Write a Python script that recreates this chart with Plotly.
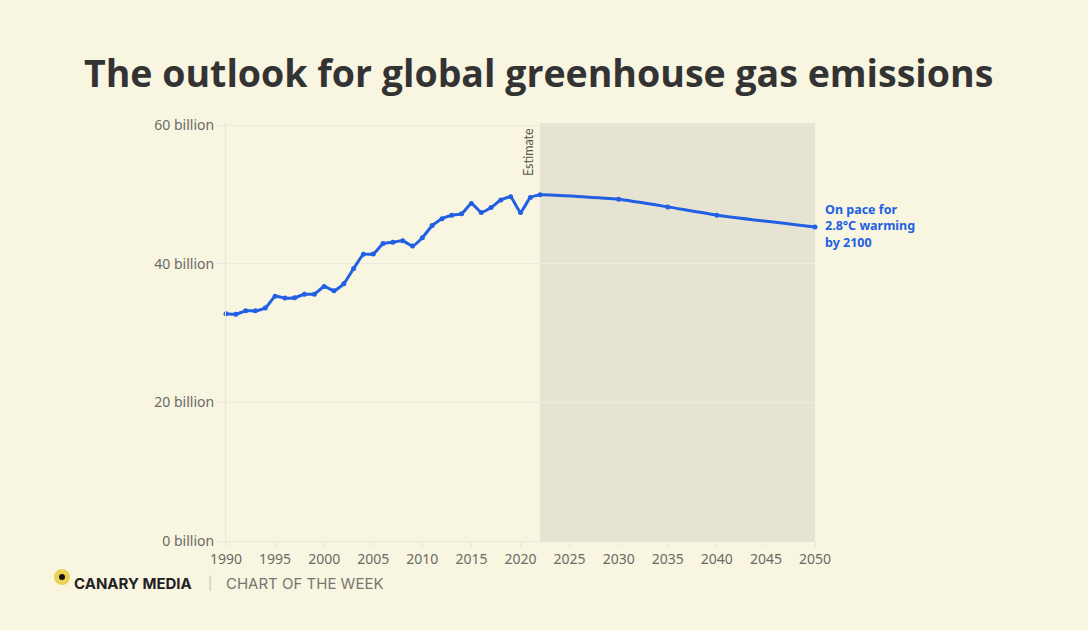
import plotly.graph_objects as go

years = list(range(1990, 2023)) + [2030, 2035, 2040, 2050]
emissions = [32.8, 32.7, 33.2, 33.2, 33.6, 35.3, 35.05, 35.1, 35.6, 35.6,
             36.7, 36.1, 37.1, 39.3, 41.35, 41.4, 42.9, 43.1, 43.3, 42.55,
             43.75, 45.5, 46.5, 47.0, 47.2, 48.7, 47.4, 48.1, 49.2, 49.65,
             47.4, 49.55, 49.95,
             49.3, 48.2, 47.0, 45.3]
estimate_start = 2022
estimate_end = 2050
y_ticks = [0, 20, 40, 60]
y_tick_labels = ["0 billion", "20 billion", "40 billion", "60 billion"]
x_ticks = list(range(1990, 2051, 5))
note_text = "On pace for<br>2.8°C warming<br>by 2100"

BG = "#f8f5e1"
BLUE = "#2160e3"
GRAY = "#6b6b66"

L, R, T, B = 226, 1088 - 815, 123, 630 - 541
PW, PH = 1088 - L - R, 630 - T - B

def px(xp):
    return (xp - L) / PW

def py(yp):
    return (630 - B - yp) / PH

fig = go.Figure()
fig.add_trace(go.Scatter(
    x=years, y=emissions, mode="lines+markers",
    line=dict(color=BLUE, width=3, shape="spline", smoothing=0.4),
    marker=dict(color=BLUE, size=5),
    cliponaxis=False, hoverinfo="skip", showlegend=False,
))

fig.add_shape(type="rect", xref="x", yref="y", x0=estimate_start, x1=estimate_end,
              y0=0, y1=60.3, fillcolor="#e6e3d3", line=dict(width=0), layer="below")

fig.add_annotation(x=estimate_start, y=59.8, xref="x", yref="y", text="Estimate",
                   textangle=-90, xanchor="right", yanchor="top", showarrow=False,
                   xshift=-2, font=dict(family="Lato", size=12.5, color="#555550"))

fig.add_annotation(x=estimate_end, y=emissions[-1], xref="x", yref="y",
                   text=note_text, align="left",
                   xanchor="left", yanchor="middle", showarrow=False, xshift=8,
                   yshift=1,
                   font=dict(family="Noto Sans", size=12.5, color=BLUE, weight="bold"))

fig.add_annotation(x=px(538), y=py(73), xref="paper", yref="paper",
                   text="<b>The outlook for global greenhouse gas emissions</b>",
                   showarrow=False, xanchor="center", yanchor="middle",
                   font=dict(family="Open Sans", size=37.5, color="#333333"))

# footer logo
fig.add_shape(type="circle", xref="paper", yref="paper", xsizemode="pixel", ysizemode="pixel",
              xanchor=px(62), yanchor=py(577), x0=-8, x1=8, y0=-8, y1=8,
              fillcolor="#ecd254", line=dict(width=0))
fig.add_shape(type="circle", xref="paper", yref="paper", xsizemode="pixel", ysizemode="pixel",
              xanchor=px(62), yanchor=py(577), x0=-3, x1=3, y0=-3, y1=3,
              fillcolor="#111111", line=dict(width=0))
fig.add_annotation(x=px(72), y=py(583), xref="paper", yref="paper", text="<b>CANARY MEDIA</b>",
                   showarrow=False, xanchor="left", yanchor="middle",
                   font=dict(family="Inter", size=15, color="#222222"))
fig.add_annotation(x=px(210), y=py(583), xref="paper", yref="paper", text="|",
                   showarrow=False, xanchor="center", yanchor="middle",
                   font=dict(family="Inter", size=13, color="#c8c6b8"))
fig.add_annotation(x=px(224), y=py(583), xref="paper", yref="paper", text="CHART OF THE WEEK",
                   showarrow=False, xanchor="left", yanchor="middle",
                   font=dict(family="Inter", size=15, color="#77776f"))

fig.update_layout(
    width=1088, height=630,
    margin=dict(l=L, r=R, t=T, b=B, pad=0),
    paper_bgcolor=BG, plot_bgcolor=BG,
    font=dict(family="Lato", color=GRAY),
    xaxis=dict(range=[1990, 2050], tickvals=x_ticks, showgrid=False,
               showline=True, linecolor="#e8e6da", linewidth=1,
               ticks="outside", ticklen=5, tickcolor="#e8e6da",
               tickfont=dict(family="Noto Sans", size=14, color=GRAY),
               zeroline=False, fixedrange=True),
    yaxis=dict(range=[0, 60.3], tickvals=y_ticks, ticktext=y_tick_labels,
               showgrid=True, gridcolor="#ecebdf", gridwidth=1,
               showline=True, linecolor="#e8e6da", linewidth=1,
               ticks="outside", ticklen=8, tickcolor="#e8e6da",
               tickfont=dict(family="Noto Sans", size=14, color=GRAY),
               zeroline=False, fixedrange=True),
)

fig.write_html("out.html", config={"displayModeBar": False},
               post_script="document.body.style.margin='0';document.body.style.background='%s';" % BG)
